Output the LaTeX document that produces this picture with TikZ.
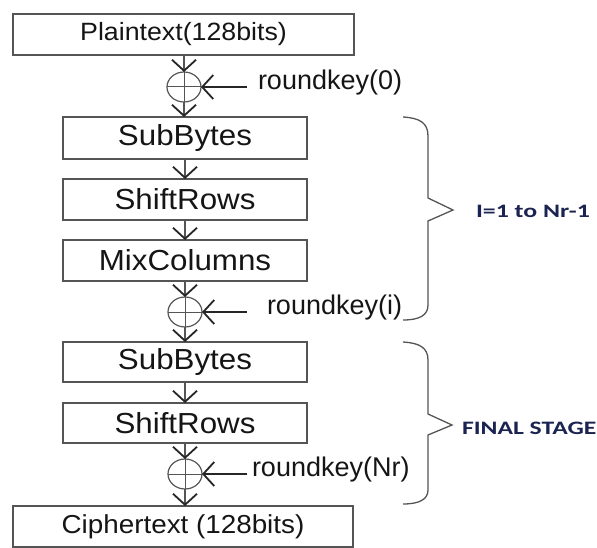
\documentclass[tikz,border=0pt]{standalone}
\usepackage{fontspec}
\usetikzlibrary{arrows.meta,shapes.geometric}
\newfontfamily\arialf{Liberation Sans}
\newfontfamily\calibf{Carlito}
\definecolor{ln}{HTML}{555555}
\definecolor{tx}{HTML}{151515}
\definecolor{lbl}{HTML}{1B2450}
\begin{document}
\begin{tikzpicture}[x=1pt,y=-1pt,
  every node/.style={inner sep=0pt, outer sep=0pt},
  wide/.style={draw=ln, line width=1.3pt, minimum width=341pt, minimum height=41pt, text=tx},
  stagebox/.style={draw=ln, line width=1.3pt, minimum width=244pt, minimum height=41pt, text=tx},
  xorop/.style={draw=ln, line width=1.2pt, ellipse, minimum width=34pt, minimum height=30pt},
  keytext/.style={anchor=mid west, text=tx, font=\arialf\fontsize{27}{30}\selectfont},
  barb/.tip={Straight Barb[length=11pt,width=24pt,line width=1.8pt,color=black!85]},
  flow/.style={draw=ln, line width=1.2pt, -barb},
  keyflow/.style={draw=black!85, line width=1.5pt, -barb},
  brace/.style={draw=ln, line width=1.3pt},
  looplbl/.style={anchor=west, text=lbl, font=\calibf\bfseries\fontsize{19}{22}\selectfont}
]
\useasboundingbox (0,0) rectangle (597,548);
% boxes
\node[wide] (pt) at (183.5,34.5) {\arialf\fontsize{25}{28}\selectfont\scalebox{1.07}[1]{Plaintext(128bits)}};
\node[xorop] (x0) at (184,87) {};
\node[stagebox, minimum height=42pt] (sb1) at (185,138) {\arialf\fontsize{29}{32}\selectfont\scalebox{1.08}[1]{SubBytes}};
\node[stagebox] (sr1) at (185,199.5) {\arialf\fontsize{29}{32}\selectfont\scalebox{1.08}[1]{ShiftRows}};
\node[stagebox] (mc) at (185,260.5) {\arialf\fontsize{29}{32}\selectfont\scalebox{1.08}[1]{MixColumns}};
\node[xorop] (x1) at (185,312) {};
\node[stagebox, minimum height=40pt] (sb2) at (185,362) {\arialf\fontsize{29}{32}\selectfont\scalebox{1.08}[1]{SubBytes}};
\node[stagebox, minimum height=40pt] (sr2) at (185,423) {\arialf\fontsize{29}{32}\selectfont\scalebox{1.08}[1]{ShiftRows}};
\node[xorop] (x2) at (185,474) {};
\node[wide, minimum width=340pt] (ct) at (183,526.5) {\arialf\fontsize{26}{30}\selectfont\scalebox{1.07}[1]{Ciphertext (128bits)}};
% xor crosses
\foreach \n in {x0,x1,x2}{
  \draw[ln, line width=1pt] (\n.north) -- (\n.south);
  \draw[ln, line width=1pt] (\n.west) -- (\n.east);
}
% key labels
\node[keytext] (k0) at (258,87) {roundkey(0)};
\node[keytext] (k1) at (267,312) {roundkey(i)};
\node[keytext] (k2) at (252,474) {roundkey(Nr)};
\draw[keyflow] ([xshift=-11pt]k0.mid west) -- (x0.east);
\draw[keyflow] ([xshift=-20pt]k1.mid west) -- (x1.east);
\draw[keyflow] ([xshift=-5pt]k2.mid west) -- (x2.east);
% vertical flow
\draw[flow] (pt.south -| x0.north) -- (x0.north);
\draw[flow] (x0.south) -- (sb1.north -| x0.south);
\draw[flow] (sb1.south) -- (sr1.north);
\draw[flow] (sr1.south) -- (mc.north);
\draw[flow] (mc.south) -- (x1.north);
\draw[flow] (x1.south) -- (sb2.north);
\draw[flow] (sb2.south) -- (sr2.north);
\draw[flow] (sr2.south) -- (x2.north);
\draw[flow] (x2.south) -- (ct.north -| x2.south);
% braces
\coordinate (b1t) at (403,117);
\coordinate (b1tip) at (453,210);
\coordinate (b1b) at (403,320);
\draw[brace] (b1t) .. controls (420,118) and (428,123) .. (428,136)
  -- (428,198) -- (b1tip) -- (428,221) -- (428,305)
  .. controls (428,315) and (420,320) .. (b1b);
\coordinate (b2t) at (403,342);
\coordinate (b2tip) at (452,425);
\coordinate (b2b) at (403,504);
\draw[brace] (b2t) .. controls (420,343) and (428,348) .. (428,360)
  -- (428,414) -- (b2tip) -- (428,435) -- (428,490)
  .. controls (428,499) and (420,504) .. (b2b);
\node[looplbl] (l1) at (476,211) {\scalebox{1.36}[1]{I=1 to Nr-1}};
\node[looplbl] (l2) at (462,428) {\scalebox{1.35}[1]{FINAL STAGE}};
\end{tikzpicture}
\end{document}
